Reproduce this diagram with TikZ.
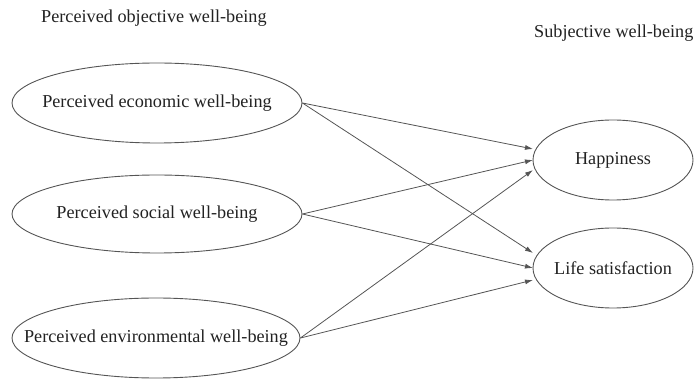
\documentclass[tikz,border=0pt]{standalone}
\usepackage{fontspec}
\setmainfont{Liberation Serif}
\usetikzlibrary{arrows.meta,shapes.geometric}
\definecolor{linec}{HTML}{555555}
\definecolor{textc}{HTML}{222222}
\begin{document}
\begin{tikzpicture}[x=1pt,y=-1pt,
  oval/.style={ellipse,draw=linec,line width=0.9pt,inner xsep=-40pt,inner ysep=0pt,text=textc,font=\fontsize{18.2}{21}\selectfont},
  lbl/.style={text=textc,font=\fontsize{18.2}{21}\selectfont,inner sep=0pt},
  arr/.style={draw=linec,line width=0.8pt,-{Latex[length=8pt,width=5pt]}}]
\useasboundingbox (0,0) rectangle (694,379);
\node[lbl,anchor=west] (t1) at (41,18) {Perceived objective well-being};
\node[lbl,anchor=west] (t2) at (534,33) {Subjective well-being};
\node[oval,minimum width=290,minimum height=80] (eco) at (157,103) {Perceived economic well-being};
\node[oval,minimum width=290,minimum height=78] (soc) at (157,214) {Perceived social well-being};
\node[oval,minimum width=288,minimum height=80] (env) at (156,338) {Perceived environmental well-being};
\node[oval,minimum width=160,minimum height=80] (hap) at (613,160) {Happiness};
\node[oval,minimum width=160,minimum height=80] (life) at (613,268) {Life satisfaction};
\coordinate (h1) at (533,149);
\coordinate (h2) at (533,160);
\coordinate (h3) at (533,170);
\coordinate (l1) at (533,253);
\coordinate (l2) at (533,268);
\coordinate (l3) at (533,280);
\draw[arr] (eco.east) -- (h1);
\draw[arr] (eco.east) -- (l1);
\draw[arr] (soc.east) -- (h2);
\draw[arr] (soc.east) -- (l2);
\draw[arr] (env.east) -- (h3);
\draw[arr] (env.east) -- (l3);
\end{tikzpicture}
\end{document}
